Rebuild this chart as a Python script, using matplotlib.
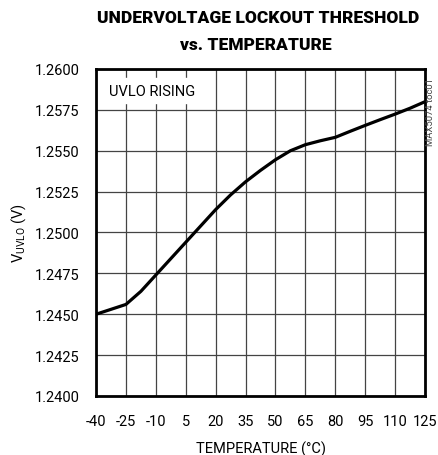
import numpy as np
import matplotlib
matplotlib.use("Agg")
import matplotlib.pyplot as plt

# UVLO rising threshold vs temperature
temp = [-40, -32.5, -25, -17.5, -10, -2.5, 5, 12.5, 20, 27.5, 35, 42.5,
        50, 57.5, 65, 72.5, 80, 87.5, 95, 102.5, 110, 117.5, 125]
vuvlo = [1.2450, 1.2453, 1.2456, 1.2464, 1.2474, 1.2484, 1.2494, 1.2504,
         1.2514, 1.2523, 1.2531, 1.2538, 1.25445, 1.2550, 1.25537, 1.25561,
         1.25582, 1.25619, 1.25655, 1.2569, 1.25724, 1.2576, 1.2580]

xticks = [-40, -25, -10, 5, 20, 35, 50, 65, 80, 95, 110, 125]
yticks = [1.2400, 1.2425, 1.2450, 1.2475, 1.2500, 1.2525, 1.2550, 1.2575, 1.2600]

plt.rcParams['font.family'] = ['Roboto', 'DejaVu Sans']

fig = plt.figure(figsize=(4.38, 4.56), dpi=100)
ax = fig.add_axes([0.2192, 0.1294, 0.7511, 0.7171])

ax.plot(temp, vuvlo, color='black', linewidth=2.3, solid_capstyle='butt',
        solid_joinstyle='round')

ax.set_xlim(-40, 125)
ax.set_ylim(1.24, 1.26)
ax.set_xticks(xticks)
ax.set_yticks(yticks)
ax.set_xticklabels([str(t) for t in xticks])
ax.set_yticklabels([f'{v:.4f}' for v in yticks])
ax.tick_params(length=0, labelsize=10.5)
ax.tick_params(axis='x', pad=13)
ax.tick_params(axis='y', pad=12)
ax.grid(True, color='#444444', linewidth=0.9)
for s in ax.spines.values():
    s.set_linewidth(2)

ax.set_xlabel('TEMPERATURE (°C)', fontsize=10.5, labelpad=9)
ax.set_ylabel('V$_{\\mathregular{UVLO}}$ (V)', fontsize=10.5, labelpad=5)

ax.text(0.04, 0.955, 'UVLO RISING', transform=ax.transAxes, fontsize=10.5,
        va='top', ha='left', backgroundcolor='white')
fig.text(0.983, 0.755, 'MAX5074 toc01', rotation=90, fontsize=6.8, color='#444444',
         ha='center', va='center')

fig.text(0.59, 0.960, 'UNDERVOLTAGE LOCKOUT THRESHOLD', fontsize=12.5,
         fontweight='black', ha='center', va='center')
fig.text(0.585, 0.901, 'vs. TEMPERATURE', fontsize=12.5,
         fontweight='black', ha='center', va='center')

fig.savefig('out.png', dpi=100)
